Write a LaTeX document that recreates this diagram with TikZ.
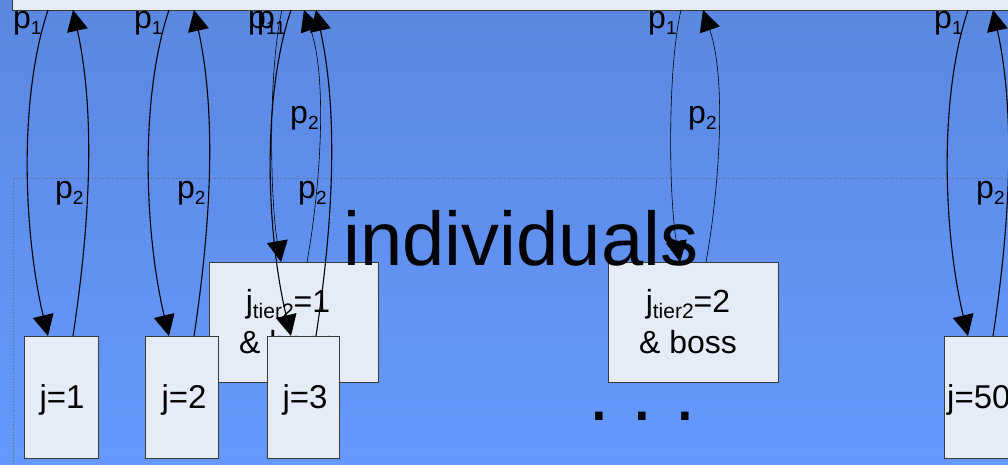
\documentclass[tikz,border=0pt]{standalone}
\usepackage{fontspec}
\setmainfont{Liberation Sans}
\usetikzlibrary{arrows.meta}
\definecolor{bgtop}{HTML}{5A87DF}
\definecolor{bgbot}{HTML}{6699FF}
\definecolor{boxfill}{HTML}{E6ECF7}
\definecolor{boxline}{HTML}{3A3A3A}
\definecolor{dotline}{HTML}{5C6A85}
\newcommand\psub[1]{\raisebox{-6pt}{\fontsize{19}{19}\selectfont #1}}
\newcommand\tsub[1]{\raisebox{-6pt}{\fontsize{21}{21}\selectfont #1}}
\begin{document}
\begin{tikzpicture}[x=1pt,y=-1pt,
  box/.style={draw=boxline, line width=0.8pt, fill=boxfill, inner sep=0pt, outer sep=0pt, anchor=north west},
  lab/.style={inner sep=0pt, anchor=base west, font=\fontsize{32}{32}\selectfont},
  boxtxt/.style={inner sep=0pt, anchor=base, font=\fontsize{33}{33}\selectfont},
  tiertxt/.style={inner sep=0pt, anchor=base, font=\fontsize{32}{32}\selectfont},
  thickarrow/.style={line width=1.1pt, -{Triangle[length=21pt,width=21pt]}},
  thinarrow/.style={line width=0.6pt, -{Triangle[length=21pt,width=21pt]}},
]
\useasboundingbox (0,0) rectangle (1008,465);
\clip (0,0) rectangle (1008,465);
\shade[top color=bgtop, bottom color=bgbot] (0,0) rectangle (1008,465);

% dotted group frame
\node[draw=dotline, dotted, line width=0.8pt, inner sep=0pt, anchor=north west,
      minimum width=1030, minimum height=310] (group) at (13,178) {};

% top bar
\node[box, minimum width=1010, minimum height=22] (bar) at (12,-12) {};

% tier2 boxes
\node[box, minimum width=169, minimum height=120] (t1) at (209,262) {};
\node[tiertxt] (t1a) at (288,312) {j\tsub{tier2}=1};
\node[tiertxt] (t1b) at (288,353) {\& boss};
\node[box, minimum width=170, minimum height=120] (t2) at (608,262) {};
\node[tiertxt] (t2a) at (688,312) {j\tsub{tier2}=2};
\node[tiertxt] (t2b) at (688,353) {\& boss};

% individual boxes
\node[box, minimum width=74, minimum height=122] (j1) at (24,336) {};
\node[boxtxt] (j1t) at (62,408) {j=1};
\node[box, minimum width=73, minimum height=122] (j2) at (145,336) {};
\node[boxtxt] (j2t) at (184,408) {j=2};
\node[box, minimum width=72, minimum height=122] (j3) at (267,336) {};
\node[boxtxt] (j3t) at (305,408) {j=3};
\node[box, minimum width=80, minimum height=122] (j50) at (944,336) {};
\node[boxtxt, anchor=base west] (j50t) at (947,408) {j=50};

% arrows j=1
\draw[thickarrow] ([xshift=36pt]bar.south west) .. controls +(-30,90) and +(-24,-101) .. ([xshift=24pt]j1.north west);
\draw[thickarrow] ([xshift=49pt]j1.north west) .. controls +(18,-119) and +(22,101) .. ([xshift=61pt]bar.south west);
% arrows j=2
\draw[thickarrow] ([xshift=157pt]bar.south west) .. controls +(-30,90) and +(-24,-101) .. ([xshift=24pt]j2.north west);
\draw[thickarrow] ([xshift=49pt]j2.north west) .. controls +(18,-119) and +(22,101) .. ([xshift=182pt]bar.south west);
% arrows j=3
\draw[thickarrow] ([xshift=279pt]bar.south west) .. controls +(-30,90) and +(-24,-101) .. ([xshift=24pt]j3.north west);
\draw[thickarrow] ([xshift=49pt]j3.north west) .. controls +(18,-119) and +(22,101) .. ([xshift=304pt]bar.south west);
% arrows j=50
\draw[thickarrow] ([xshift=956pt]bar.south west) .. controls +(-30,90) and +(-24,-101) .. ([xshift=24pt]j50.north west);
\draw[thickarrow] ([xshift=49pt]j50.north west) .. controls +(18,-119) and +(22,101) .. ([xshift=981pt]bar.south west);
% arrows tier2=1
\draw[thinarrow] ([xshift=270pt]bar.south west) .. controls +(-14,60) and +(-11,-62) .. ([xshift=72pt]t1.north west);
\draw[thinarrow] ([xshift=98pt]t1.north west) .. controls +(13,-72) and +(24,70) .. ([xshift=292pt]bar.south west);
% arrows tier2=2
\draw[thinarrow] ([xshift=669pt]bar.south west) .. controls +(-14,60) and +(-11,-62) .. ([xshift=72pt]t2.north west);
\draw[thinarrow] ([xshift=98pt]t2.north west) .. controls +(13,-72) and +(24,70) .. ([xshift=691pt]bar.south west);

% labels
\node[lab] (l11) at (13,29) {p\psub{1}};
\node[lab] (l12) at (55,198) {p\psub{2}};
\node[lab] (l21) at (134,29) {p\psub{1}};
\node[lab] (l22) at (177,198) {p\psub{2}};
\node[lab] (l31) at (257,29) {p\psub{1}};
\node[lab] (l32) at (298,198) {p\psub{2}};
\node[lab] (l501) at (934,29) {p\psub{1}};
\node[lab] (l502) at (976,198) {p\psub{2}};
\node[lab] (lt11) at (248,29) {p\psub{1}};
\node[lab] (lt12) at (290,124) {p\psub{2}};
\node[lab] (lt21) at (648,29) {p\psub{1}};
\node[lab] (lt22) at (688,124) {p\psub{2}};

% big texts
\node[inner sep=0pt, anchor=base, font=\fontsize{76}{76}\selectfont] (indiv) at (521,265) {individuals};
\node[inner sep=0pt, anchor=base west, font=\fontsize{78}{78}\selectfont\frenchspacing] (dots) at (588,420) {. . .};
\end{tikzpicture}
\end{document}
